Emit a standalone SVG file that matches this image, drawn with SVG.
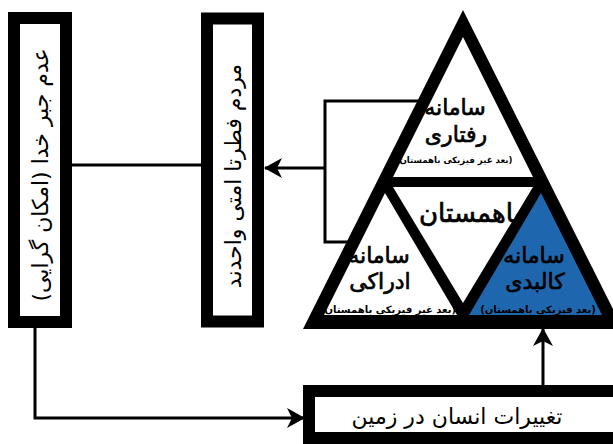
<svg xmlns="http://www.w3.org/2000/svg" width="613" height="444" viewBox="0 0 613 444">
  <defs>
    <marker id="arrow" markerUnits="userSpaceOnUse" markerWidth="18" markerHeight="20" refX="17" refY="10" orient="auto">
      <path d="M0,0 L18,10 L0,20 L5,10 Z" fill="#000"/>
    </marker>
    <style>
      .box { fill: #fff; stroke: #000; stroke-width: 12; }
      .conn { fill: none; stroke: #000; stroke-width: 3; }
      .t { font-family: "DejaVu Sans", sans-serif; fill: #000; text-anchor: middle; }
      .big { font-size: 22px; }
      .b { stroke: #000; stroke-width: 0.7; }
      .small { font-size: 8.6px; font-weight: bold; }
      .small2 { font-size: 10px; font-weight: bold; }
    </style>
  </defs>
  <rect width="613" height="444" fill="#fff"/>

  <g id="connectors">
    <line class="conn" x1="71" y1="165" x2="202" y2="165"/>
    <polyline class="conn" points="418,101 325,101 325,242 348,242"/>
    <line class="conn" x1="325" y1="168" x2="265" y2="168" marker-end="url(#arrow)"/>
    <polyline class="conn" points="35,328 35,418 304,418" marker-end="url(#arrow)"/>
    <line class="conn" x1="543" y1="386" x2="543" y2="329" marker-end="url(#arrow)"/>
  </g>

  <g id="node-left">
    <rect class="box" x="14" y="18" width="52" height="304"/>
    <text class="t big" transform="translate(40,175) rotate(-90)" dominant-baseline="central" direction="rtl">عدم جبر خدا (امکان گرایی)</text>
  </g>

  <g id="node-middle">
    <rect class="box" x="207" y="18.5" width="51" height="303" stroke-width="10"/>
    <text class="t big" transform="translate(233,176) rotate(-90)" dominant-baseline="central" direction="rtl">مردم فطرتا امتی واحدند</text>
  </g>

  <g id="node-triangle">
    <polygon points="463,10 303,329 623,329" fill="#000"/>
    <g id="node-behavioral">
      <polygon points="463,37 393,177 533,177" fill="#fff"/>
      <text class="t big b" x="455" y="115">سامانه</text>
      <text class="t big b" x="456" y="142">رفتاری</text>
      <text class="t small" x="454" y="163">(بعد غیر فیزیکی باهمستان)</text>
    </g>
    <g id="node-bahamestan">
      <polygon points="393,187 533,187 463,303" fill="#fff"/>
      <text class="t b" x="470" y="222" font-size="26">باهمستان</text>
    </g>
    <g id="node-cognitive">
      <polygon points="385,193 324,315 457,315" fill="#fff"/>
      <text class="t big b" x="379" y="263">سامانه</text>
      <text class="t big b" x="380" y="289">ادراکی</text>
      <text class="t small2" x="388" y="313">(بعد غیر فیزیکی باهمستان)</text>
    </g>
    <g id="node-physical">
      <polygon points="541,193 469,315 602,315" fill="#1e66ad"/>
      <text class="t big b" x="534" y="263">سامانه</text>
      <text class="t big b" x="535" y="289">کالبدی</text>
      <text class="t small2" x="538" y="313">(بعد فیزیکی باهمستان)</text>
    </g>
  </g>

  <g id="node-bottom">
    <rect class="box" x="309" y="391" width="330" height="47"/>
    <text class="t big" x="457" y="424">تغییرات انسان در زمین</text>
  </g>
</svg>
